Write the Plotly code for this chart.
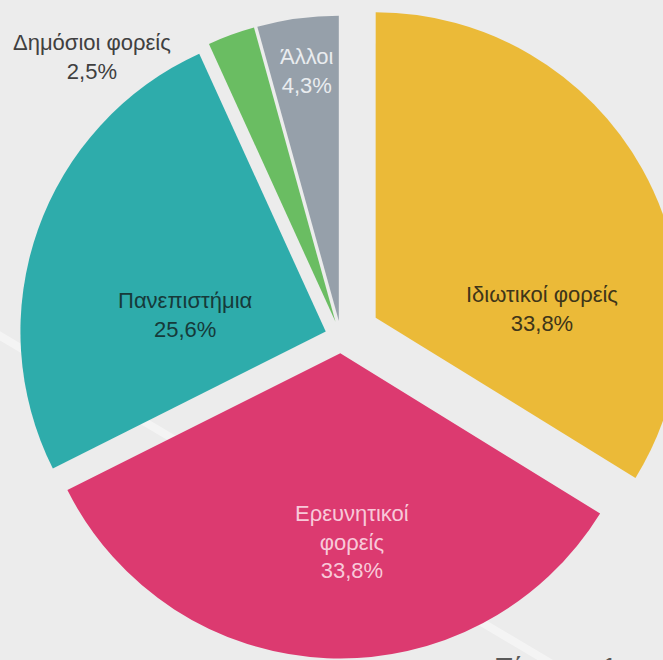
import plotly.graph_objects as go

# ---- data ----
labels = ["Ιδιωτικοί φορείς", "Ερευνητικοί φορείς", "Πανεπιστήμια", "Δημόσιοι φορείς", "Άλλοι"]
values = [33.8, 33.8, 25.6, 2.5, 4.3]
label_lines = ["Ιδιωτικοί φορείς", "Ερευνητικοί<br>φορείς", "Πανεπιστήμια", "Δημόσιοι φορείς", "Άλλοι"]

# ---- styles ----
colors = ["#EBBA38", "#DC3A70", "#2EACAB", "#6ABD62", "#96A0AA"]
pulls = [0.13, 0.053, 0.053, 0.053, 0.053]
text_colors = ["#3E3519", "#F8C9D9", "#163A3A", "#404040", "#E9ECEF"]
label_px = [(542, 309), (352, 542), (185, 315), (92, 57), (307, 71)]

# the figure is shifted up-left a few pixels so the pie can be cropped by the window
OFF_X, OFF_Y = 5, 8
W, H = 692, 690
FONT = "Liberation Sans, Arial, sans-serif"

fig = go.Figure()
fig.add_trace(go.Pie(
    labels=labels,
    values=values,
    sort=False,
    direction="clockwise",
    rotation=0,
    pull=pulls,
    marker=dict(colors=colors, line=dict(width=0)),
    textinfo="none",
    hoverinfo="label+percent",
    showlegend=False,
    domain=dict(x=[0, 1], y=[0, 1]),
))

def fmt(v):
    return f"{v:.1f}".replace(".", ",") + "%"

def px2paper(px, py):
    return (px + OFF_X) / W, 1 - (py + OFF_Y) / H

annotations = []
for name, v, c, (px, py) in zip(label_lines, values, text_colors, label_px):
    ax, ay = px2paper(px, py)
    annotations.append(dict(
        text=f"{name}<br>{fmt(v)}",
        x=ax, y=ay, xref="paper", yref="paper",
        xanchor="center", yanchor="middle", showarrow=False,
        font=dict(family=FONT, size=22, color=c),
    ))

# partially visible caption at bottom right
cx_, cy_ = px2paper(492, 650)
annotations.append(dict(
    text="Πίνακας 1", x=cx_, y=cy_, xref="paper", yref="paper",
    xanchor="left", yanchor="top", showarrow=False,
    font=dict(family=FONT, size=28, color="#595959"),
))

lx0, ly0 = px2paper(0, 333)
lx1, ly1 = px2paper(700, 752)
fig.update_layout(
    width=W, height=H,
    margin=dict(l=0, r=0, t=0, b=0),
    paper_bgcolor="#ECECEC",
    plot_bgcolor="#ECECEC",
    annotations=annotations,
    shapes=[dict(
        type="line", xref="paper", yref="paper", layer="below",
        x0=lx0 - OFF_X / W, y0=ly0, x1=lx1, y1=ly1,
        line=dict(color="rgba(255,255,255,0.45)", width=8),
    )],
)

fig.write_html(
    "out.html",
    config={"displayModeBar": False},
    post_script=(
        "document.body.style.margin='0';document.body.style.overflow='hidden';"
        "document.body.style.background='#ECECEC';"
        "var d=document.getElementById('{plot_id}');"
        "d.style.position='relative';d.style.left='-%dpx';d.style.top='-%dpx';" % (OFF_X, OFF_Y)
    ),
)
